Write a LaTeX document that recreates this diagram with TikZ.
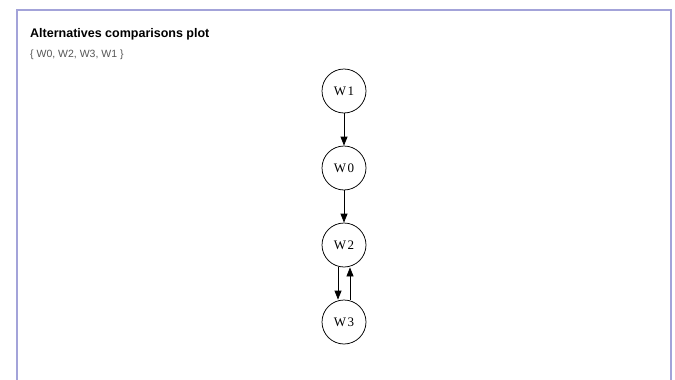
\documentclass[tikz,border=0pt]{standalone}
\usepackage{fontspec}
\setmainfont{Liberation Serif}
\newfontfamily\arialfont{Liberation Sans}
\usetikzlibrary{arrows.meta}
\definecolor{framec}{HTML}{A3A3D9}
\definecolor{subc}{HTML}{555555}
\begin{document}
\begin{tikzpicture}[x=1pt,y=-1pt,
  alt/.style={circle,draw=black,line width=0.75pt,minimum size=44pt,inner sep=0pt,font=\fontsize{13}{15}\selectfont},
  edge/.style={line width=0.75pt,-{Triangle[length=9pt,width=7pt]}}]
\useasboundingbox (0,0) rectangle (675,380);
\draw[framec,line width=1.2pt] (17,381) -- (17,10) -- (671,10) -- (671,381);
\node[anchor=base west,inner sep=0pt,font=\arialfont\bfseries\fontsize{12.5}{14}\selectfont] (title) at (30,37) {Alternatives comparisons plot};
\node[anchor=base west,inner sep=0pt,text=subc,font=\arialfont\fontsize{10.5}{12}\selectfont] (sub) at (30,57.5) {\{ W0, W2, W3, W1 \}};
\node[alt] (w1) at (344,91) {W\kern1.5pt 1};
\node[alt] (w0) at (344,168) {W\kern1.5pt 0};
\node[alt] (w2) at (344,245) {W\kern1.5pt 2};
\node[alt] (w3) at (344,322) {W\kern1.5pt 3};
\draw[edge] (w1) -- (w0);
\draw[edge] (w0) -- (w2);
\draw[edge] ([xshift=-6pt]w2.south) -- ([xshift=-6pt]w3.north);
\draw[edge] ([xshift=6pt]w3.north) -- ([xshift=6pt]w2.south);
\end{tikzpicture}
\end{document}
